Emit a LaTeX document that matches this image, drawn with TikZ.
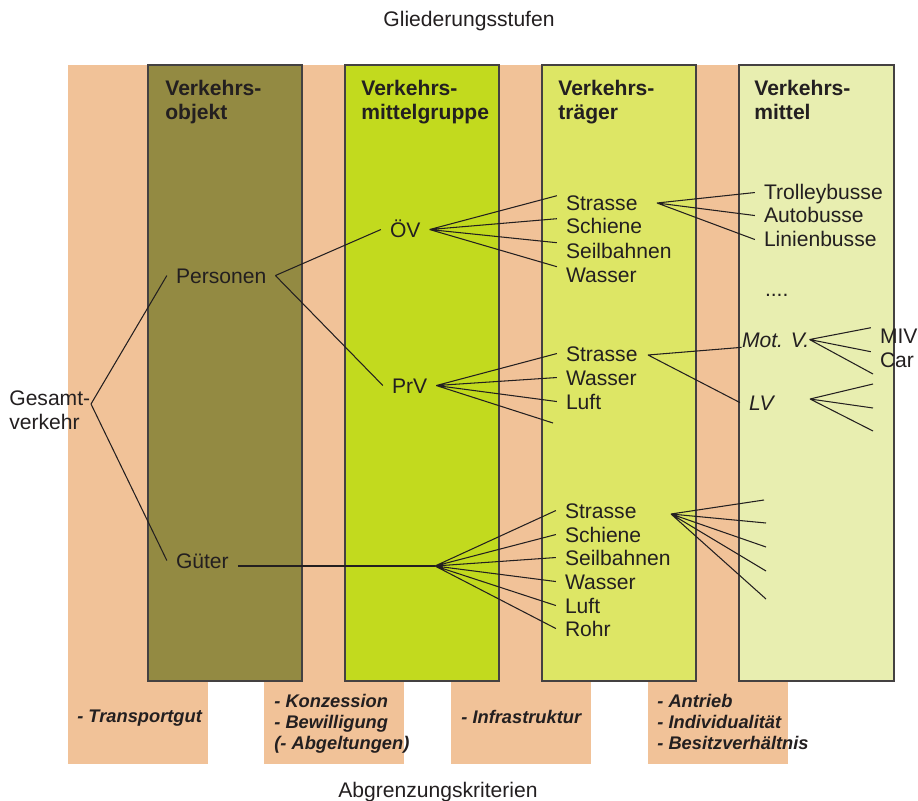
\documentclass[tikz,border=0pt]{standalone}
\usepackage{fontspec}
\setmainfont{Liberation Sans}
\definecolor{peach}{RGB}{241,194,152}
\definecolor{objcol}{RGB}{147,138,66}
\definecolor{grpcol}{RGB}{194,218,30}
\definecolor{trgcol}{RGB}{221,230,101}
\definecolor{mitcol}{RGB}{232,238,176}
\definecolor{ink}{RGB}{35,31,32}
\tikzset{
  band/.style={fill=peach},
  column/.style={draw=ink!85,line width=0.6pt},
  head/.style={anchor=base west,inner sep=0pt,align=left,font=\bfseries\fontsize{12}{14.2}\selectfont},
  item/.style={anchor=text,inner xsep=5pt,inner ysep=0pt,text height=8.5pt,text depth=0pt,font=\fontsize{12}{13.5}\selectfont},
  kind/.style={item,font=\itshape\fontsize{12}{13.5}\selectfont},
  stack/.style={anchor=base west,inner sep=0pt,align=left,font=\fontsize{12}{13.5}\selectfont},
  crit/.style={anchor=base west,inner sep=0pt,align=left,font=\bfseries\itshape\fontsize{10.4}{11.7}\selectfont},
  caption/.style={anchor=base,inner sep=0pt,font=\fontsize{12}{14}\selectfont},
  link/.style={line width=0.6pt}
}
\begin{document}
\begin{tikzpicture}[x=0.02cm,y=-0.02cm,ink]
    \useasboundingbox (0,0) rectangle (918,800);
    % Hintergrundstreifen
    \fill[band] (68,65) rectangle (208,764);
    \fill[band] (264,65) rectangle (404,764);
    \fill[band] (451,65) rectangle (591,764);
    \fill[band] (648,65) rectangle (788,764);
    % Gliederungsstufen
    \filldraw[column,fill=objcol] (148,65) rectangle (302,681);
    \filldraw[column,fill=grpcol] (345,65) rectangle (499,681);
    \filldraw[column,fill=trgcol] (542,65) rectangle (696,681);
    \filldraw[column,fill=mitcol] (739,65) rectangle (894,681);
    \node[caption] (titel) at (469,27) {Gliederungsstufen};%
    \node[caption] (kriterien) at (438,797) {Abgrenzungskriterien};%
    \node[head] (objekt) at (165,120) {Verkehrs-\\objekt};%
    \node[head] (gruppe) at (361,120) {Verkehrs-\\mittelgruppe};%
    \node[head] (traeger) at (558,120) {Verkehrs-\\träger};%
    \node[head] (mittel) at (754,120) {Verkehrs-\\mittel};%
    % Knoten
    \node[stack] (gv) at (9,429) {Gesamt-\\verkehr};%
    \node[item] (pe) at (176,283) {Personen};%
    \node[item] (gu) at (176,568) {Güter};%
    \node[item] (ov) at (390,237) {ÖV};%
    \node[item] (pr) at (392,393) {PrV};%
    \node[item] (ta1) at (566,211) {Strasse};%
    \node[item] (ta2) at (566,234) {Schiene};%
    \node[item] (ta3) at (566,258) {Seilbahnen};%
    \node[item] (ta4) at (566,282) {Wasser};%
    \node[item] (tb1) at (566,361) {Strasse};%
    \node[item] (tb2) at (566,385) {Wasser};%
    \node[item] (tb3) at (566,409) {Luft};%
    \node[item] (tc1) at (565,518) {Strasse};%
    \node[item] (tc2) at (565,542) {Schiene};%
    \node[item] (tc3) at (565,565) {Seilbahnen};%
    \node[item] (tc4) at (565,589) {Wasser};%
    \node[item] (tc5) at (565,613) {Luft};%
    \node[item] (tc6) at (565,636) {Rohr};%
    \node[item] (m1) at (764,200) {Trolleybusse};%
    \node[item] (m2) at (764,223) {Autobusse};%
    \node[item] (m3) at (764,247) {Linienbusse};%
    \node[item] (dots) at (765,296) {....};%
    \node[kind,inner xsep=0pt] (mv) at (742,347) {Mot. V.};%
    \node[kind] (lv) at (749,410) {LV};%
    \node[item] (miv) at (880,343) {MIV};%
    \node[item] (car) at (880,367) {Car};%
    % Verzweigungen
    \coordinate (gvH) at (91,404);
    \coordinate (guH) at (435,566);
    \coordinate (s1H) at (657,203);
    \coordinate (s2H) at (648,355);
    \coordinate (s3H) at (671,514);
    \coordinate (lvH) at (810,399);
    \coordinate (prX) at (553,423);
    \coordinate (mvX) at (873,374);
    \coordinate (lv1) at (873,384);
    \coordinate (lv2) at (873,408);
    \coordinate (lv3) at (873,431);
    \coordinate (s3a) at (764,500);
    \coordinate (s3b) at (766,523);
    \coordinate (s3c) at (766,547);
    \coordinate (s3d) at (766,571);
    \coordinate (s3e) at (766,599);
    \draw[link] (gvH) to (pe.west) (gvH) to (gu.west);
    \draw[link] (pe.east) to (ov.west) (pe.east) to (pr.west);
    \draw[link] (gu.east |- guH) to (guH);
    \draw[link] (ov.east) to (ta1.north west) (ov.east) to (ta2.north west)
                (ov.east) to (ta3.north west) (ov.east) to (ta4.north west);
    \draw[link] (pr.east) to (tb1.west) (pr.east) to (tb2.west)
                (pr.east) to (tb3.west) (pr.east) to (prX);
    \draw[link] (guH) to (tc1.west) (guH) to (tc2.west) (guH) to (tc3.west)
                (guH) to (tc4.west) (guH) to (tc5.west) (guH) to (tc6.west);
    \draw[link] (s1H) to (m1.west) (s1H) to (m2.west) (s1H) to (m3.west);
    \draw[link] (s2H) to (mv.south west) (s2H) to (lv.west);
    \draw[link] (mv.east) to (miv.north west) (mv.east) to (car.north west) (mv.east) to (mvX);
    \draw[link] (lvH) to (lv1) (lvH) to (lv2) (lvH) to (lv3);
    \draw[link] (s3H) to (s3a) (s3H) to (s3b) (s3H) to (s3c) (s3H) to (s3d) (s3H) to (s3e);
    % Abgrenzungskriterien
    \node[crit] (k1) at (77,722) {- Transportgut};%
    \node[crit] (k2) at (274,749) {- Konzession\\- Bewilligung\\(- Abgeltungen)};%
    \node[crit] (k3) at (461,723) {- Infrastruktur};%
    \node[crit] (k4) at (657,749) {- Antrieb\\- Individualität\\- Besitzverhältnis};%
\end{tikzpicture}
\end{document}
